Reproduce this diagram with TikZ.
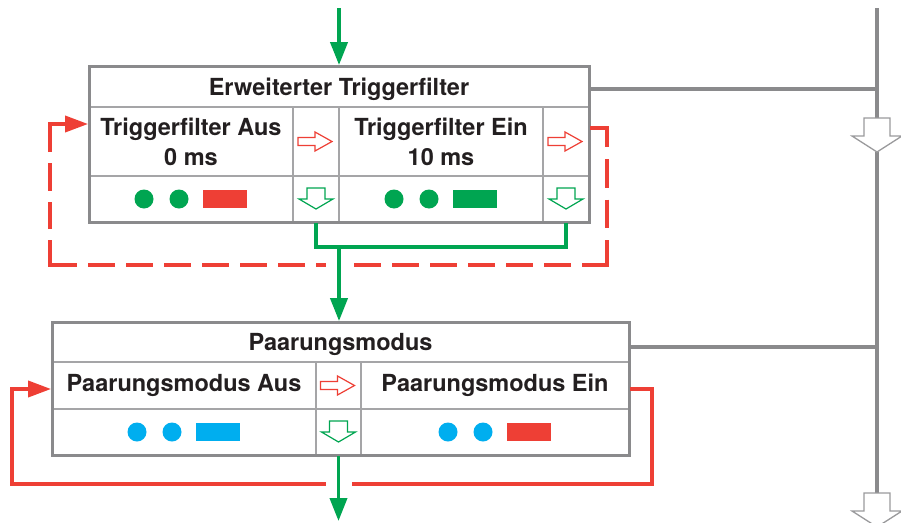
\documentclass[tikz,border=0pt]{standalone}
\usepackage{fontspec}
\setmainfont{TeX Gyre Heros}
\usetikzlibrary{arrows.meta,calc}
\definecolor{lred}{HTML}{EE3F35}
\definecolor{lgreen}{HTML}{00A551}
\definecolor{lcyan}{HTML}{00AEEF}
\definecolor{lgray}{HTML}{8A8A8C}
\definecolor{cgray}{HTML}{A5A5A7}
\definecolor{agray}{HTML}{9A9A9C}
\definecolor{ink}{HTML}{231F20}
\tikzset{
  cell/.style={draw=cgray, line width=1.8pt, fill=white, inner sep=0pt, text=ink,
    font=\fontsize{23.5}{30}\selectfont\bfseries, align=center},
  headcell/.style={cell, text depth=0pt},
  frame/.style={draw=lgray, line width=3pt, inner sep=0pt},
  gline/.style={draw=lgreen, line width=3.8pt, line join=miter},
  garrow/.style={-{Triangle[length=23pt,width=17pt]}},
  rline/.style={draw=lred, line width=3.6pt, line join=miter},
  rdashfit/.style 2 args={rline, dash pattern=on #1pt off #2pt, dash phase=#1pt},
  rarrowtip/.style={-{Triangle[length=23pt,width=16pt]}},
  grayline/.style={draw=lgray, line width=4pt},
}
\newcommand{\hrarrow}[1]{\draw[lred, line width=1.2pt, fill=white, shift={(#1)}]
  (-18,-4) -- (-1,-4) -- (-1,-9.5) -- (16,0) -- (-1,9.5) -- (-1,4) -- (-18,4) -- cycle;}
\newcommand{\hdarrow}[1]{\draw[lgreen, line width=1.2pt, fill=white, shift={(#1)}]
  (-9,-11) -- (9,-11) -- (9,0) -- (17,0) -- (0,10) -- (-17,0) -- (-9,0) -- cycle;}
\newcommand{\bigarrow}[1]{\draw[agray, line width=1.3pt, fill=white, shift={(#1)}]
  (-13,-17) -- (13,-17) -- (13,1) -- (25,1) -- (0,17) -- (-25,1) -- (-13,1) -- cycle;}
\newcommand{\lamps}[3]{\fill[#2, shift={(#1)}] (-47,0) circle[radius=9.5pt] (-12,0) circle[radius=9.5pt];
  \fill[#3, shift={(#1)}] (12,-9) rectangle (56,9);}
\begin{document}
\begin{tikzpicture}[x=1pt,y=-1pt]
\useasboundingbox (0,0) rectangle (901,522);

% ---- box 1 cells
\node[headcell, minimum width=500pt, minimum height=41pt] (h1) at (339,86.5) {Erweiterter Triggerfilter};
\node[cell, minimum width=204pt, minimum height=69pt] (c11) at (191,141.5) {Triggerfilter Aus\\0 ms};
\node[cell, minimum width=46pt, minimum height=69pt] (a11) at (316,141.5) {};
\node[cell, minimum width=204pt, minimum height=69pt] (c12) at (441,141.5) {Triggerfilter Ein\\10 ms};
\node[cell, minimum width=46pt, minimum height=69pt] (a12) at (566,141.5) {};
\node[cell, minimum width=204pt, minimum height=46pt] (d11) at (191,199) {};
\node[cell, minimum width=46pt, minimum height=46pt] (g11) at (316,199) {};
\node[cell, minimum width=204pt, minimum height=46pt] (d12) at (441,199) {};
\node[cell, minimum width=46pt, minimum height=46pt] (g12) at (566,199) {};
\node[frame, minimum width=500pt, minimum height=156pt] (b1) at (339,144) {};

% ---- box 2 cells
\node[headcell, minimum width=577pt, minimum height=40pt] (h2) at (340.5,342) {Paarungsmodus};
\node[cell, minimum width=264pt, minimum height=47pt] (c21) at (184,385.5) {Paarungsmodus Aus};
\node[cell, minimum width=45pt, minimum height=47pt] (a21) at (338.5,385.5) {};
\node[cell, minimum width=268pt, minimum height=47pt] (c22) at (495,385.5) {Paarungsmodus Ein};
\node[cell, minimum width=264pt, minimum height=46pt] (d21) at (184,432) {};
\node[cell, minimum width=45pt, minimum height=46pt] (g21) at (338.5,432) {};
\node[cell, minimum width=268pt, minimum height=46pt] (d22) at (495,432) {};
\node[frame, minimum width=577pt, minimum height=133pt] (b2) at (340.5,388.5) {};

% ---- red dashed loop (box 1): solid corners, fitted dashes between
\coordinate (rS)  at ($(a12.east)+(0,-13.5)$);
\coordinate (rE)  at ($(c11.west)+(0,-17.5)$);
\coordinate (rTR) at ($(rS)+(17,0)$);
\coordinate (rBR) at ($(rTR)+(0,137)$);
\coordinate (rTL) at ($(rE)+(-38,0)$);
\coordinate (rBL) at (rTL |- rBR);
\draw[rline] (rS) -- (rTR) -- ($(rTR)+(0,19)$);
\draw[rdashfit={28.5}{12}] ($(rTR)+(0,19)$) -- ($(rBR)+(0,-25)$);
\draw[rline] ($(rBR)+(0,-25)$) -- (rBR) -- ($(rBR)+(-25,0)$);
\draw[rdashfit={27}{11}] ($(rBR)+(-25,0)$) -- ($(rBL)+(25,0)$);
\draw[rline] ($(rBL)+(25,0)$) -- (rBL) -- ($(rBL)+(0,-25)$);
\draw[rdashfit={27.5}{11}] ($(rBL)+(0,-25)$) -- ($(rTL)+(0,28)$);
\draw[rline, rarrowtip] ($(rTL)+(0,28)$) -- (rTL) -- (rE);

% ---- red solid loop (box 2)
\draw[rline, rarrowtip] ($(c22.east)+(0,3.5)$) -- ++(22,0)
  |- ($(c21.west)+(-39,98.5)$) -- ($(c21.west)+(-39,3.5)$) -- ($(c21.west)+(0,3.5)$);

% ---- gaps where green crosses red
\coordinate (bus) at (339,247);
\fill[white] ($(bus)+(-13,12)$) rectangle ($(bus)+(13,24)$);
\fill[white] ($(g21.south)+(-12.5,23)$) rectangle ($(g21.south)+(13.5,35)$);

% ---- green flow
\coordinate (gin) at (339,8);
\coordinate (gout) at (338.5,521);
\draw[gline, garrow] (gin) -- (gin |- h1.north);
\draw[gline] (g11.south) |- (bus);
\draw[gline] (g12.south) |- (bus);
\draw[gline, garrow] (bus) -- (bus |- h2.north);
\draw[gline, garrow] (g21.south) -- (gout);

% ---- gray bus on the right
\coordinate (gtop) at (877,8);
\coordinate (ga1) at (877,135);
\coordinate (ga2) at (877,510);
\draw[grayline] ($(h1.east)+(0,2.5)$) -- ($(h1.east -| gtop)+(0,2.5)$);
\draw[grayline] ($(h2.east)+(0,5)$) -- ($(h2.east -| gtop)+(0,5)$);
\draw[grayline] (gtop) -- ($(ga1)+(0,-17)$);
\draw[grayline] ($(ga1)+(0,17)$) -- ($(ga2)+(0,-17)$);
\bigarrow{ga1}
\bigarrow{ga2}

% ---- small hollow arrows
\hrarrow{a11}
\hrarrow{a12}
\hrarrow{a21}
\hdarrow{g11}
\hdarrow{g12}
\hdarrow{g21}

% ---- lamps
\lamps{d11}{lgreen}{lred}
\lamps{d12}{lgreen}{lgreen}
\lamps{d21}{lcyan}{lcyan}
\lamps{d22}{lcyan}{lred}
\end{tikzpicture}
\end{document}
